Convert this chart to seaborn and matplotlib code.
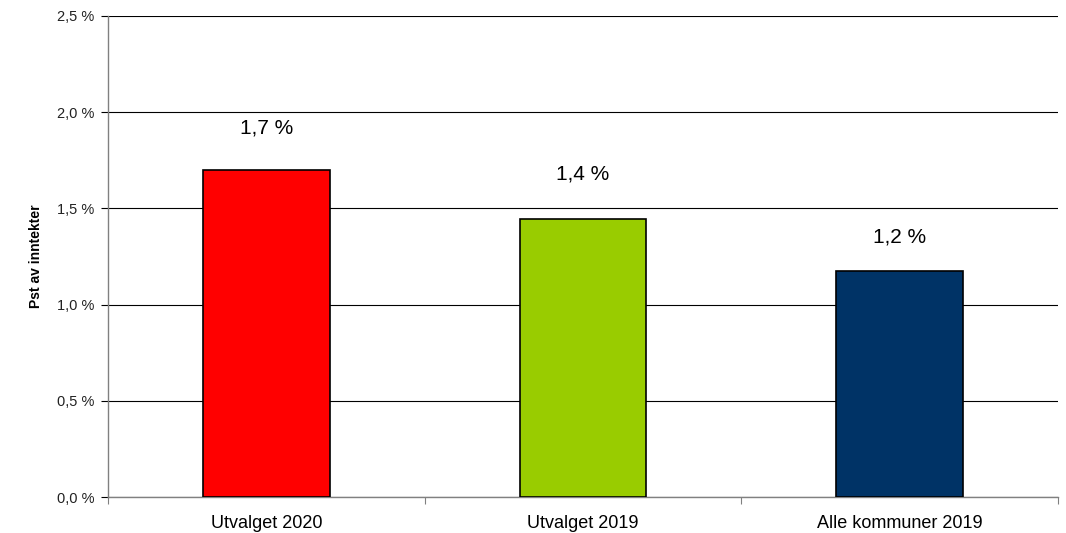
import matplotlib
matplotlib.use('agg')
import matplotlib.pyplot as plt
import seaborn as sns
import pandas as pd
from matplotlib.ticker import FuncFormatter, FixedLocator

categories = ["Utvalget 2020", "Utvalget 2019", "Alle kommuner 2019"]
values = [1.70, 1.445, 1.175]
colors = ["#ff0000", "#99cc00", "#003366"]
yticks = [0.0, 0.5, 1.0, 1.5, 2.0, 2.5]

df = pd.DataFrame({"kategori": categories, "verdi": values})

sns.set_style("white")
plt.rcParams["font.family"] = ["Liberation Sans", "DejaVu Sans"]
plt.rcParams["text.color"] = "black"

fig = plt.figure(figsize=(10.66, 5.33), dpi=100)
ax = fig.add_axes([0.1013, 0.0675, 0.8912, 0.9025])

sns.barplot(data=df, x="kategori", y="verdi", hue="kategori", palette=colors,
            saturation=1, width=0.4, edgecolor="black", linewidth=1.2,
            legend=False, ax=ax, zorder=3)

ax.set_ylim(0, 2.5)
ax.set_xlim(-0.5, 2.5)
ax.set_yticks(yticks)
ax.yaxis.set_major_formatter(FuncFormatter(lambda v, p: f"{v:.1f} %".replace(".", ",")))
ax.grid(axis="y", color="black", linewidth=0.8, zorder=0)
ax.tick_params(axis="y", length=5, width=0.8, color="black", labelsize=10.5,
               labelcolor="#222222", pad=5, left=True)
ax.tick_params(axis="x", which="major", length=0, labelsize=13, labelcolor="black", pad=13)
ax.xaxis.set_minor_locator(FixedLocator([-0.5, 0.5, 1.5, 2.5]))
ax.tick_params(axis="x", which="minor", length=5, width=0.8, color="gray", bottom=True)

for side in ["top", "right"]:
    ax.spines[side].set_visible(False)
for side in ["left", "bottom"]:
    ax.spines[side].set_color("gray")
    ax.spines[side].set_linewidth(1)

ax.set_xlabel("")
ax.set_ylabel("Pst av inntekter", fontsize=10, fontweight="bold", color="black", labelpad=10)

offsets = [32, 35, 24]
for i, (v, off) in enumerate(zip(values, offsets)):
    ax.annotate(f"{v:.1f} %".replace(".", ","), xy=(i, v), xytext=(0, off),
                textcoords="offset pixels", ha="center", va="bottom", fontsize=15)

fig.savefig("out.png", dpi=100)
